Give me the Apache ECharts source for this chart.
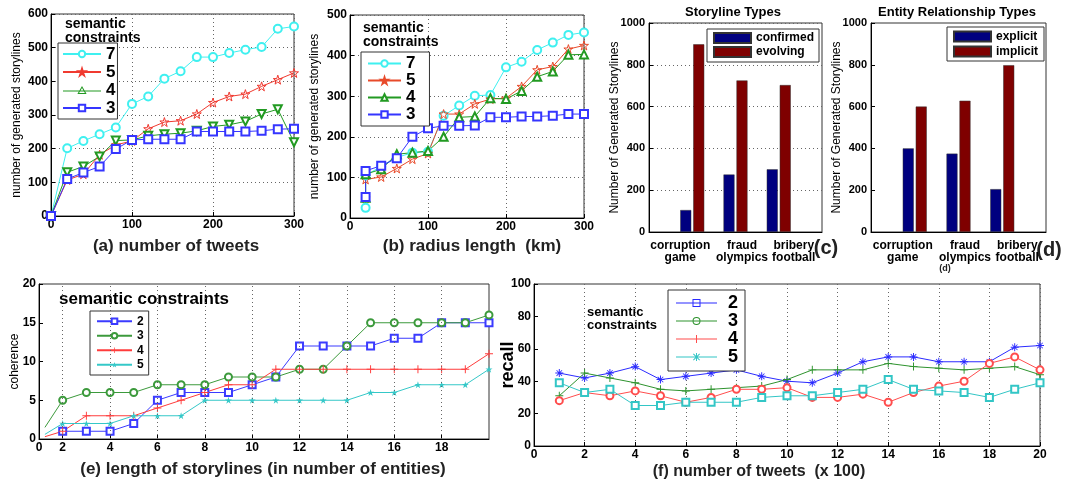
<!DOCTYPE html>
<html><head><meta charset="utf-8">
<script src="https://cdn.jsdelivr.net/npm/echarts/dist/echarts.min.js"></script>
<style>html,body{margin:0;padding:0;background:#fff}#c{width:1070px;height:487px}</style>
</head><body><div id="c"></div>
<script>
// ---------- data ----------
// (a) number of tweets vs number of generated storylines
const aX  = [0,20,40,60,80,100,120,140,160,180,200,220,240,260,280,300];
const a7  = [0,201,223,243,263,333,355,408,430,472,472,484,494,502,556,563];
const a5  = [0,107,124,182,211,223,259,279,283,303,337,355,362,385,405,425];
const a4  = [0,130,147,177,224,226,238,243,246,253,266,271,281,303,317,219];
const a3  = [0,110,129,147,199,226,228,228,228,251,251,251,251,253,258,259];
// (b) radius length vs number of generated storylines
const bX  = [20,20,40,60,80,100,120,140,160,180,200,220,240,260,280,300];
const b7  = [25,105,127,149,161,163,252,277,301,303,371,385,414,432,451,457];
const b5  = [49,95,101,122,145,159,256,256,281,293,295,324,365,373,416,425];
const b4  = [50,108,120,157,161,165,200,248,250,295,293,313,348,361,402,403];
const b3  = [52,116,129,147,200,221,227,227,228,248,248,250,250,252,256,256];
// (c) storyline types
const barCats     = ['corruption\ngame','fraud\nolympics','bribery\nfootball'];
const cConfirmed  = [105,275,300];
const cEvolving   = [898,725,703];
// (d) entity relationship types
const dExplicit   = [400,375,205];
const dImplicit   = [600,628,798];
// (e) length of storylines vs coherence
const eX   = [2,3,4,5,6,7,8,9,10,11,12,13,14,15,16,17,18,19,20];
const e2   = [1,1,1,2,5,6,6,6,7,8,12,12,12,12,13,13,15,15,15];
const e3   = [5,6,6,6,7,7,7,8,8,8,9,9,12,15,15,15,15,15,16];
const e4   = [1,3,3,3,4,5,6,7,7,9,9,9,9,9,9,9,9,9,11];
const e5   = [2,2,2,3,3,3,5,5,5,5,5,5,5,6,6,7,7,7,9];
const eStartX = 1.25;
const eStart3 = 1.5, eStart4 = 0.3, eStart5 = 0.6;
const eTickPos  = [1,2,4,6,8,10,12,14,16,18];
const eTickText = ['0','2','4','6','8','10','12','14','16','18'];
const eGridX    = [2,4,6,8,10,12,14,16,18];
// (f) number of tweets (x100) vs recall
const fX  = [1,2,3,4,5,6,7,8,9,10,11,12,13,14,15,16,17,18,19,20];
const f2  = [45,42,45,49,41,43,45,47,43,40,39,45,52,55,55,52,52,52,61,62];
const f3  = [31,45,42,39,35,34,35,36,37,41,47,47,47,51,49,48,47,48,49,44];
const f4  = [28,33,31,34,31,27,30,35,35,36,30,30,32,27,33,37,40,51,55,47];
const f5  = [39,33,35,25,25,27,27,27,30,31,31,33,35,41,35,34,33,30,35,39];

// ---------- styling helpers ----------
const FONT = '"Liberation Sans", Arial, Helvetica, sans-serif';
const STAR  = 'path://M5,0L6.18,3.62L10,3.62L6.91,5.86L8.09,9.51L5,7.27L1.91,9.51L3.09,5.86L0,3.62L3.82,3.62Z';
const PLUS  = 'path://M4.4,0H5.6V10H4.4Z M0,4.4H10V5.6H0Z';
const ASTER = 'path://M4.4,0H5.6V10H4.4Z M0,4.4H10V5.6H0Z M1.2,1.9L1.9,1.2L8.8,8.1L8.1,8.8Z M8.1,1.2L8.8,1.9L1.9,8.8L1.2,8.1Z';
const DOT = {color:'#666', type:[1,3], width:1};

// legend icons (line + marker) for the legends whose markers differ from the plotted ones
const LG_LINE41 = 'M0,3.5H41V4.5H0Z ';
const LG_F = {
  sq:   'path://' + LG_LINE41 + 'M16.5,0H24.5V8H16.5Z M17.5,1V7H23.5V1Z',
  ci:   'path://' + LG_LINE41 + 'M24.5,4A4,4 0 1,1 16.5,4A4,4 0 1,1 24.5,4Z M23.5,4A3,3 0 1,0 17.5,4A3,3 0 1,0 23.5,4Z',
  plus: 'path://' + LG_LINE41 + 'M20,0H21V8H20Z',
  star: 'path://' + LG_LINE41 + 'M20,0H21V8H20Z M17,1.2L17.7,0.5L24,6.8L23.3,7.5Z M23.3,0.5L24,1.2L17.7,7.5L17,6.8Z'
};
const LG_A_TRI = 'path://M0,4.5H38V5.5H0Z M19,0L23.6,8H14.4Z M19,2L16.1,7H21.9Z';

function vAxis(gi, min, max, interval, o) {
  o = o || {};
  const ax = {
    gridIndex: gi, type: 'value', min: min, max: max,
    axisLine: {show: true, onZero: false, lineStyle: {color: '#000', width: 1}},
    axisTick: Object.assign({show: true, inside: true, length: 4, lineStyle: {color: '#000'}}, o.tick || {}),
    axisLabel: Object.assign({color: '#000', fontFamily: FONT, fontWeight: 'bold', fontSize: 12, margin: 3,
                              formatter: v => String(v)}, o.label || {}),
    splitLine: o.split ? {show: true, lineStyle: DOT} : {show: false},
    name: o.name || '', nameLocation: 'middle', nameGap: o.nameGap || 20, nameMoveOverlap: false,
    nameTextStyle: Object.assign({color: '#000', fontFamily: FONT, fontSize: 12}, o.nameStyle || {})
  };
  if (interval != null) ax.interval = interval;
  return ax;
}
function pairs(xs, ys) { return xs.map((x, i) => [x, ys[i]]); }
function ls(name, gi, data, color, symbol, size, extra) {
  const hollowPath = symbol === STAR && !(extra && extra.filled);
  const s = {
    type: 'line', name: name, xAxisIndex: gi, yAxisIndex: gi, data: data,
    symbol: symbol, symbolSize: size, showAllSymbol: true, animation: false,
    lineStyle: {color: color, width: 1},
    itemStyle: hollowPath ? {color: 'rgba(255,255,255,0)', borderColor: color, borderWidth: 1} : {color: color},
    emphasis: {disabled: true}, z: 3
  };
  if (extra) { delete extra.filled; Object.assign(s, extra); }
  return s;
}
function catAxisData() {
  // horizontal nudges of the two-line category labels (label layout only)
  const nudge = [-24, 13, 30];
  const d = [''];
  barCats.forEach((c, i) => d.push({value: c, textStyle: {padding: [0, 0, 0, nudge[i]]}}));
  d.push('');
  return d;
}
function catAxis(gi) {
  return {
    gridIndex: gi, type: 'category', data: catAxisData(), boundaryGap: false,
    axisLine: {show: true, lineStyle: {color: '#000'}}, axisTick: {show: false},
    axisLabel: {interval: 0, color: '#000', fontFamily: FONT, fontWeight: 'bold', fontSize: 12,
                lineHeight: 12.5, align: 'center', margin: 7},
    splitLine: {show: false}
  };
}
const stripName = n => n.split('|')[1];
function legend(data, left, top, o) {
  return Object.assign({
    data: data, left: left, top: top, orient: 'vertical', selectedMode: false,
    borderColor: '#333', borderWidth: 1, backgroundColor: '#fff', borderRadius: 0,
    formatter: stripName, itemGap: 0
  }, o);
}

const gridDefs = [
  {left: 51,  top: 14,  width: 243, height: 202},
  {left: 350, top: 15,  width: 234, height: 203},
  {left: 649, top: 23,  width: 173, height: 209},
  {left: 871, top: 23,  width: 175, height: 209},
  {left: 39,  top: 284, width: 450, height: 155},
  {left: 534, top: 284, width: 506, height: 162}
].map(g => Object.assign({show: true, borderColor: '#333', borderWidth: 1, backgroundColor: '#fff'}, g));

const cy = '#3ff0f0', rd = '#f03a30', gn = '#229a22', bl = '#3535ff';
const bRed = '#e84a2a';
const eb = '#3b3bff', eg = '#3c9a3c', er = '#ff3c3c', ec = '#35c8c8';
const NAVY = '#00007f', MAROON = '#7f0000';

const eStartItem = (y) => ({value: [eStartX, y], symbol: 'none'});

const option = {
  animation: false,
  backgroundColor: '#fff',
  textStyle: {fontFamily: FONT},
  grid: gridDefs,
  xAxis: [
    vAxis(0, 0, 300, 100, {split: true}),
    vAxis(1, 0, 300, 100, {split: true}),
    catAxis(2),
    catAxis(3),
    vAxis(4, 1, 20, null, {
      tick: {customValues: eGridX},
      label: {customValues: eTickPos, formatter: v => { const i = eTickPos.indexOf(v); return i >= 0 ? eTickText[i] : ''; }}
    }),
    vAxis(5, 0, 20, 2, {split: true})
  ],
  yAxis: [
    vAxis(0, 0, 600, 100, {split: true, name: 'number of generated storylines', nameGap: 28}),
    vAxis(1, 0, 500, 100, {split: true, name: 'number of generated storylines', nameGap: 29}),
    vAxis(2, 0, 1000, 200, {split: true, name: 'Number of Generated Storylines', nameGap: 28, label: {fontSize: 11, margin: 4}}),
    vAxis(3, 0, 1000, 200, {name: 'Number of Generated Storylines', nameGap: 28, label: {fontSize: 11, margin: 4}}),
    vAxis(4, 0, 20, 5, {name: 'coherence', nameGap: 18}),
    vAxis(5, 0, 100, 20, {name: 'recall', nameGap: 17, nameStyle: {fontSize: 18, fontWeight: 'bold'}})
  ],
  legend: [
    legend(['a|7', 'a|5', {name: 'a|4', icon: LG_A_TRI}, 'a|3'], 58, 43, {itemWidth: 38, itemHeight: 8, padding: [2, 2, 2, 4],
      textStyle: {fontSize: 17, lineHeight: 18, fontWeight: 'bold', color: '#000', fontFamily: FONT}}),
    legend(['b|7', 'b|5', 'b|4', 'b|3'], 361, 52, {itemWidth: 33, itemHeight: 8, padding: [3, 14, 3, 6],
      textStyle: {fontSize: 17, lineHeight: 17, fontWeight: 'bold', color: '#000', fontFamily: FONT}}),
    legend(['c|confirmed', 'c|evolving'], 707, 29, {itemWidth: 37, itemHeight: 10, icon: 'rect', padding: [2, 5, 3, 6],
      textStyle: {fontSize: 12, lineHeight: 14, fontWeight: 'bold', color: '#000', fontFamily: FONT}}),
    legend(['d|explicit', 'd|implicit'], 947, 27, {itemWidth: 37, itemHeight: 10, icon: 'rect', padding: [2, 6, 2, 6],
      textStyle: {fontSize: 12, lineHeight: 15, fontWeight: 'bold', color: '#000', fontFamily: FONT}}),
    legend(['e|2', 'e|3', 'e|4', 'e|5'], 90, 311, {itemWidth: 35, itemHeight: 7, padding: [3, 5, 3, 6],
      textStyle: {fontSize: 12, lineHeight: 14.5, fontWeight: 'bold', color: '#000', fontFamily: FONT}}),
    legend([{name: 'f|2', icon: LG_F.sq}, {name: 'f|3', icon: LG_F.ci}, {name: 'f|4', icon: LG_F.plus}, {name: 'f|5', icon: LG_F.star}],
      668, 290, {itemWidth: 41, itemHeight: 8, padding: [4, 7, 5, 8],
      textStyle: {fontSize: 18, lineHeight: 15, fontWeight: 'bold', color: '#000', fontFamily: FONT, padding: [0, 0, 0, 6]}})
  ],
  graphic: [
    {type: 'text', x: 65, y: 17, style: {text: 'semantic\nconstraints', font: 'bold 14px ' + FONT, lineHeight: 14, fill: '#000'}},
    {type: 'text', x: 363, y: 21, style: {text: 'semantic\nconstraints', font: 'bold 14px ' + FONT, lineHeight: 14, fill: '#000'}},
    {type: 'text', x: 59, y: 291, style: {text: 'semantic constraints', font: 'bold 17px ' + FONT, fill: '#000'}},
    {type: 'text', x: 587, y: 306, style: {text: 'semantic\nconstraints', font: 'bold 13px ' + FONT, lineHeight: 13, fill: '#000'}},
    {type: 'text', x: 733, y: 12, style: {text: 'Storyline Types', font: 'bold 13px ' + FONT, textAlign: 'center', textVerticalAlign: 'middle', fill: '#000'}},
    {type: 'text', x: 957, y: 12, style: {text: 'Entity Relationship Types', font: 'bold 13px ' + FONT, textAlign: 'center', textVerticalAlign: 'middle', fill: '#000'}},
    {type: 'text', x: 176, y: 246, style: {text: '(a) number of tweets', font: 'bold 17px ' + FONT, textAlign: 'center', textVerticalAlign: 'middle', fill: '#222'}},
    {type: 'text', x: 472, y: 246, style: {text: '(b) radius length  (km)', font: 'bold 17px ' + FONT, textAlign: 'center', textVerticalAlign: 'middle', fill: '#222'}},
    {type: 'text', x: 826, y: 248, style: {text: '(c)', font: 'bold 20px ' + FONT, textAlign: 'center', textVerticalAlign: 'middle', fill: '#222'}},
    {type: 'text', x: 1049, y: 250, style: {text: '(d)', font: 'bold 20px ' + FONT, textAlign: 'center', textVerticalAlign: 'middle', fill: '#222'}},
    {type: 'text', x: 945, y: 269, style: {text: '(d)', font: 'bold 9px ' + FONT, textAlign: 'center', textVerticalAlign: 'middle', fill: '#222'}},
    {type: 'text', x: 263, y: 469, style: {text: '(e) length of storylines (in number of entities)', font: 'bold 17px ' + FONT, textAlign: 'center', textVerticalAlign: 'middle', fill: '#222'}},
    {type: 'text', x: 759, y: 472, style: {text: '(f) number of tweets  (x 100)', font: 'bold 16px ' + FONT, textAlign: 'center', textVerticalAlign: 'middle', fill: '#222'}}
  ],
  series: [
    // (a)
    ls('a|7', 0, pairs(aX, a7), cy, 'emptyCircle', 8),
    ls('a|5', 0, pairs(aX, a5), rd, STAR, 9),
    ls('a|4', 0, pairs(aX, a4), gn, 'emptyTriangle', 8, {symbolRotate: 180}),
    ls('a|3', 0, pairs(aX, a3), bl, 'emptyRect', 8),
    // (b)
    ls('b|7', 1, pairs(bX, b7), cy, 'emptyCircle', 8),
    ls('b|5', 1, pairs(bX, b5), bRed, STAR, 9),
    ls('b|4', 1, pairs(bX, b4), gn, 'emptyTriangle', 8),
    ls('b|3', 1, pairs(bX, b3), bl, 'emptyRect', 8),
    // (c)
    {type: 'bar', name: 'c|confirmed', xAxisIndex: 2, yAxisIndex: 2, data: ['-'].concat(cConfirmed, ['-']),
     barWidth: 11, barGap: '18%', itemStyle: {color: NAVY, borderColor: '#333', borderWidth: 0.5}, emphasis: {disabled: true}},
    {type: 'bar', name: 'c|evolving', xAxisIndex: 2, yAxisIndex: 2, data: ['-'].concat(cEvolving, ['-']),
     barWidth: 11, barGap: '18%', itemStyle: {color: MAROON, borderColor: '#333', borderWidth: 0.5}, emphasis: {disabled: true}},
    // (d)
    {type: 'bar', name: 'd|explicit', xAxisIndex: 3, yAxisIndex: 3, data: ['-'].concat(dExplicit, ['-']),
     barWidth: 11, barGap: '18%', itemStyle: {color: NAVY, borderColor: '#333', borderWidth: 0.5}, emphasis: {disabled: true}},
    {type: 'bar', name: 'd|implicit', xAxisIndex: 3, yAxisIndex: 3, data: ['-'].concat(dImplicit, ['-']),
     barWidth: 11, barGap: '18%', itemStyle: {color: MAROON, borderColor: '#333', borderWidth: 0.5}, emphasis: {disabled: true}},
    // (e)
    ls('e|2', 4, pairs(eX, e2), eb, 'emptyRect', 7, {
      markLine: {silent: true, symbol: 'none', label: {show: false}, lineStyle: DOT, animation: false,
                 data: eGridX.map(v => ({xAxis: v}))}}),
    ls('e|3', 4, [eStartItem(eStart3)].concat(pairs(eX, e3)), eg, 'emptyCircle', 7),
    ls('e|4', 4, [eStartItem(eStart4)].concat(pairs(eX, e4)), er, PLUS, 8),
    ls('e|5', 4, [eStartItem(eStart5)].concat(pairs(eX, e5)), ec, STAR, 7, {filled: true}),
    // (f)
    ls('f|2', 5, pairs(fX, f2), '#2b2bff', ASTER, 8),
    ls('f|3', 5, pairs(fX, f3), '#2e932e', PLUS, 8),
    ls('f|4', 5, pairs(fX, f4), '#ff4d4d', 'emptyCircle', 7),
    ls('f|5', 5, pairs(fX, f5), '#33c6c6', 'emptyRect', 7)
  ]
};
const chart = echarts.init(document.getElementById('c'), null, {renderer: 'canvas'});
chart.setOption(option);
</script></body></html>
